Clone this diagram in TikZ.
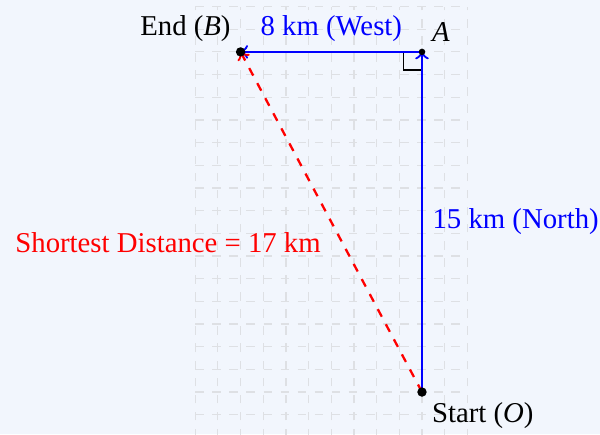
\documentclass[tikz,border=0pt]{standalone}
\usepackage{fontspec}
\setmainfont{Liberation Serif}
\definecolor{bgcol}{RGB}{242,246,253}
\definecolor{gridcol}{RGB}{222,224,228}
\begin{document}
\begin{tikzpicture}[x=0.28cm,y=0.28cm,
  gridline/.style={draw=gridcol, thin, dashed},
  leg/.style={blue, thick, ->},
  shortest/.style={red, thick, dashed, ->},
  dotnode/.style={circle, fill=black, inner sep=0pt, minimum size=#1},
  lab/.style={font=\fontsize{10.1}{12}\selectfont}]
\fill[bgcol] (-18.61,-1.85) rectangle (7.85,17.29);
\useasboundingbox (-18.61,-1.85) rectangle (7.85,17.29);
\begin{scope}
\clip (-18.61,-1.85) rectangle (7.85,17.29);
\draw[gridline, step=0.28cm] (-10,-2) grid (2,17);
\end{scope}
\coordinate (O) at (0,0);
\coordinate (A) at (0,15);
\coordinate (B) at (-8,15);
\coordinate (R1) at (-0.8,15);
\coordinate (R2) at (-0.8,14.2);
\coordinate (R3) at (0,14.2);
\draw[black, thin] (R1) -- (R2) -- (R3);
\draw[leg] (O) -- node[right, lab] (north) {15 km (North)} (A);
\draw[leg] (A) -- node[above, lab] (west) {8 km (West)} (B);
\draw[shortest] (O) -- node[below left, lab] (dist) {Shortest Distance = 17 km} (B);
\node[dotnode=3.3pt] (Odot) at (O) {};
\node[dotnode=2.3pt] (Adot) at (A) {};
\node[dotnode=3.3pt] (Bdot) at (B) {};
\node[above left, lab] (Blab) at (B) {End (\textit{B})};
\node[above right, lab] (Alab) at (A) {\textit{A}};
\node[below right, lab] (Olab) at (O) {Start (\textit{O})};
\end{tikzpicture}
\end{document}
